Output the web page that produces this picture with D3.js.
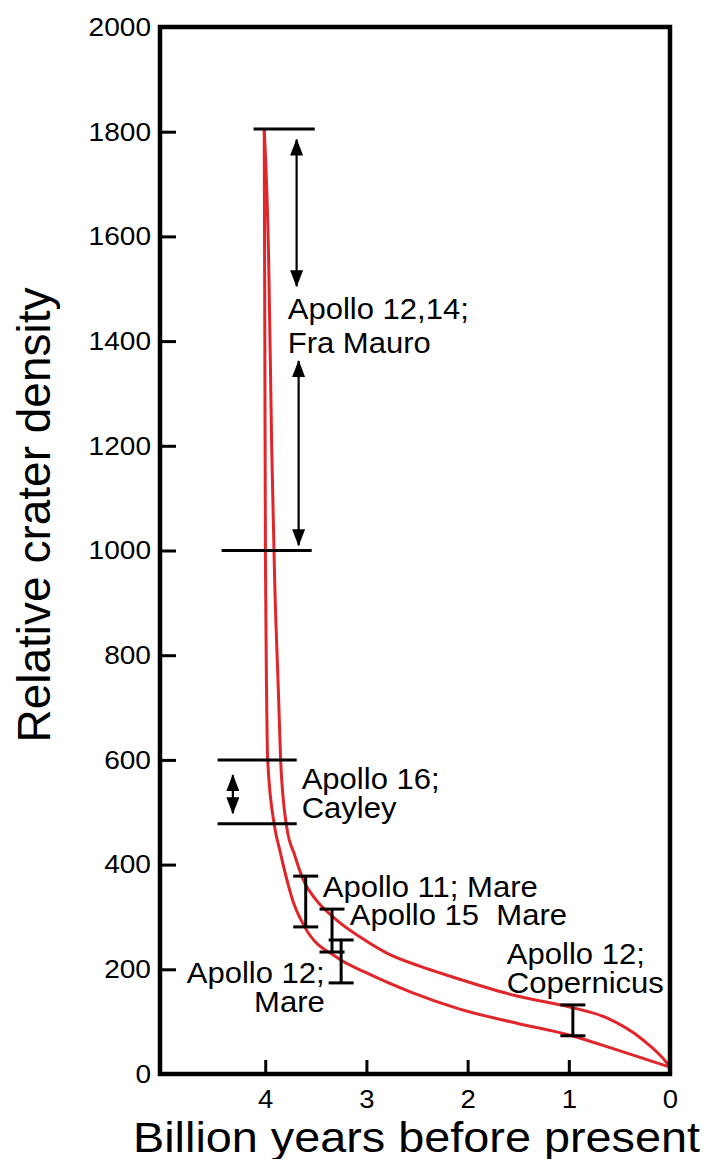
<!DOCTYPE html>
<html>
<head>
<meta charset="utf-8">
<script src="https://cdn.jsdelivr.net/npm/d3@7"></script>
<style>
  html, body { margin: 0; padding: 0; background: #fff; }
  svg { display: block; }
  text { font-family: "Liberation Sans", Arial, Helvetica, sans-serif; fill: #000; }
</style>
</head>
<body>
<svg id="chart" width="716" height="1159"></svg>
<script>
// ---------- DATA ----------
const yTicks = [0, 200, 400, 600, 800, 1000, 1200, 1400, 1600, 1800, 2000];
const xTicks = [4, 3, 2, 1, 0];

// Lower (left) bounding curve: [age (Gyr), relative crater density]
const lowerCurve = [
  [4.010, 1805], [4.004, 1400], [3.998, 982], [3.986, 714], [3.976, 600], [3.907, 472],
  [3.857, 428], [3.778, 365], [3.729, 332], [3.610, 281], [3.294, 223],
  [2.997, 193], [2.542, 155], [2.077, 124], [1.513, 97], [0.989, 74],
  [0.524, 46], [0, 13]
];
// Upper (right) bounding curve
const upperCurve = [
  [4.010, 1805], [3.966, 1555], [3.936, 1196], [3.907, 944], [3.867, 714],
  [3.848, 600], [3.788, 472], [3.709, 418], [3.610, 365], [3.511, 336],
  [3.294, 294], [3.066, 262], [2.799, 231], [2.473, 206], [2.176, 187],
  [1.513, 149], [0.989, 128], [0.623, 107], [0.267, 65], [0.030, 21], [0, 13]
];

// Horizontal range limits (age from, age to, density)
const rangeBars = [
  [4.115, 3.511, 1805],
  [4.431, 3.541, 1000],
  [4.471, 3.689, 600],
  [4.471, 3.689, 478]
];
// Double arrows (age, density from, density to)
const doubleArrows = [
  [3.69, 1785, 1505],
  [3.67, 1362, 1010],
  [4.32, 571, 498]
];
// Error bars (age, low density, high density)
const errorBars = [
  [3.60, 281, 378],
  [3.34, 233, 315],
  [3.25, 174, 256],
  [0.96, 73, 132]
];
// Labels (text, age, density, anchor)
const labels = [
  ["Apollo 12,14;", 3.778, 1442, "start"],
  ["Fra Mauro", 3.778, 1377, "start"],
  ["Apollo 16;", 3.64, 544, "start"],
  ["Cayley", 3.64, 489, "start"],
  ["Apollo 11; Mare", 3.432, 338, "start"],
  ["Apollo 15  Mare", 3.165, 285, "start"],
  ["Apollo 12;", 3.412, 174, "end"],
  ["Mare", 3.412, 118, "end"],
  ["Apollo 12;", 1.612, 210, "start"],
  ["Copernicus", 1.612, 155, "start"]
];
const xTitle = "Billion years before present";
const yTitle = "Relative crater density";

// ---------- CHART ----------
const svg = d3.select("#chart");
const mLeft = 160, mRight = 670, mTop = 27, mBottom = 1074;

const x = d3.scaleLinear().domain([5.04, 0]).range([mLeft, mRight]);
const y = d3.scaleLinear().domain([0, 2000]).range([mBottom, mTop]);

const red = "#e0262a";

// widen glyphs slightly (reference face is wider than Liberation Sans)
function stretch(sel, f) {
  sel.each(function () {
    const len = this.getComputedTextLength();
    d3.select(this).attr("textLength", len * f).attr("lengthAdjust", "spacingAndGlyphs");
  });
}

// defs: arrowhead
const defs = svg.append("defs");
defs.append("marker")
  .attr("id", "ah")
  .attr("viewBox", "0 0 17 13")
  .attr("refX", 16).attr("refY", 6.5)
  .attr("markerUnits", "userSpaceOnUse")
  .attr("markerWidth", 17).attr("markerHeight", 13)
  .attr("orient", "auto-start-reverse")
  .append("path")
  .attr("d", "M0,0 L17,6.5 L0,13 Z")
  .attr("fill", "#000");

// curves
const line = d3.line()
  .x(d => x(d[0]))
  .y(d => y(d[1]))
  .curve(d3.curveMonotoneX);

svg.append("path").datum(lowerCurve)
  .attr("d", line).attr("fill", "none")
  .attr("stroke", red).attr("stroke-width", 3);
svg.append("path").datum(upperCurve)
  .attr("d", line).attr("fill", "none")
  .attr("stroke", red).attr("stroke-width", 3);

// range bars
svg.selectAll(".rbar").data(rangeBars).enter().append("line")
  .attr("x1", d => x(d[0])).attr("x2", d => x(d[1]))
  .attr("y1", d => y(d[2])).attr("y2", d => y(d[2]))
  .attr("stroke", "#000").attr("stroke-width", 3);

// double arrows
svg.selectAll(".darrow").data(doubleArrows).enter().append("line")
  .attr("x1", d => x(d[0])).attr("x2", d => x(d[0]))
  .attr("y1", d => y(d[1])).attr("y2", d => y(d[2]))
  .attr("stroke", "#000").attr("stroke-width", 2.2)
  .attr("marker-start", "url(#ah)").attr("marker-end", "url(#ah)");

// error bars
const cap = 12.5;
const eb = svg.selectAll(".eb").data(errorBars).enter().append("g");
eb.append("line")
  .attr("x1", d => x(d[0])).attr("x2", d => x(d[0]))
  .attr("y1", d => y(d[1])).attr("y2", d => y(d[2]))
  .attr("stroke", "#000").attr("stroke-width", 3);
eb.append("line")
  .attr("x1", d => x(d[0]) - cap).attr("x2", d => x(d[0]) + cap)
  .attr("y1", d => y(d[1])).attr("y2", d => y(d[1]))
  .attr("stroke", "#000").attr("stroke-width", 3);
eb.append("line")
  .attr("x1", d => x(d[0]) - cap).attr("x2", d => x(d[0]) + cap)
  .attr("y1", d => y(d[2])).attr("y2", d => y(d[2]))
  .attr("stroke", "#000").attr("stroke-width", 3);

// labels
const lbl = svg.selectAll(".lbl").data(labels).enter().append("text")
  .attr("x", d => x(d[1])).attr("y", d => y(d[2]))
  .attr("text-anchor", d => d[3])
  .attr("font-size", 29)
  .style("white-space", "pre")
  .text(d => d[0]);
stretch(lbl, 1.07);

// axes (inner ticks)
const yAxis = d3.axisLeft(y).tickValues(yTicks).tickSize(-16).tickPadding(9)
  .tickFormat(d3.format("d"));
const gy = svg.append("g").attr("transform", `translate(${mLeft},0)`).call(yAxis);
gy.attr("font-size", 26).attr("font-family", '"Liberation Sans", Arial, sans-serif');
gy.select(".domain").remove();
gy.selectAll(".tick line").attr("stroke", "#000").attr("stroke-width", 3);
gy.selectAll(".tick text").attr("fill", "#000");
stretch(gy.selectAll(".tick text"), 1.08);

const xAxis = d3.axisBottom(x).tickValues(xTicks).tickSize(-14).tickPadding(16)
  .tickFormat(d3.format("d"));
const gx = svg.append("g").attr("transform", `translate(0,${mBottom})`).call(xAxis);
gx.attr("font-size", 25).attr("font-family", '"Liberation Sans", Arial, sans-serif');
gx.select(".domain").remove();
gx.selectAll(".tick line").attr("stroke", "#000").attr("stroke-width", 3);
gx.selectAll(".tick text").attr("fill", "#000");
stretch(gx.selectAll(".tick text"), 1.1);

// frame
svg.append("rect")
  .attr("x", mLeft).attr("y", mTop)
  .attr("width", mRight - mLeft).attr("height", mBottom - mTop)
  .attr("fill", "none").attr("stroke", "#000").attr("stroke-width", 4.5);

// titles
const xt = svg.append("text")
  .attr("x", 133).attr("y", 1152)
  .attr("font-size", 43)
  .text(xTitle);
xt.attr("textLength", 567).attr("lengthAdjust", "spacingAndGlyphs");

svg.append("text")
  .attr("transform", `translate(50,${(285 + 745) / 2}) rotate(-90)`)
  .attr("text-anchor", "middle")
  .attr("font-size", 46)
  .text(yTitle);
</script>
</body>
</html>
